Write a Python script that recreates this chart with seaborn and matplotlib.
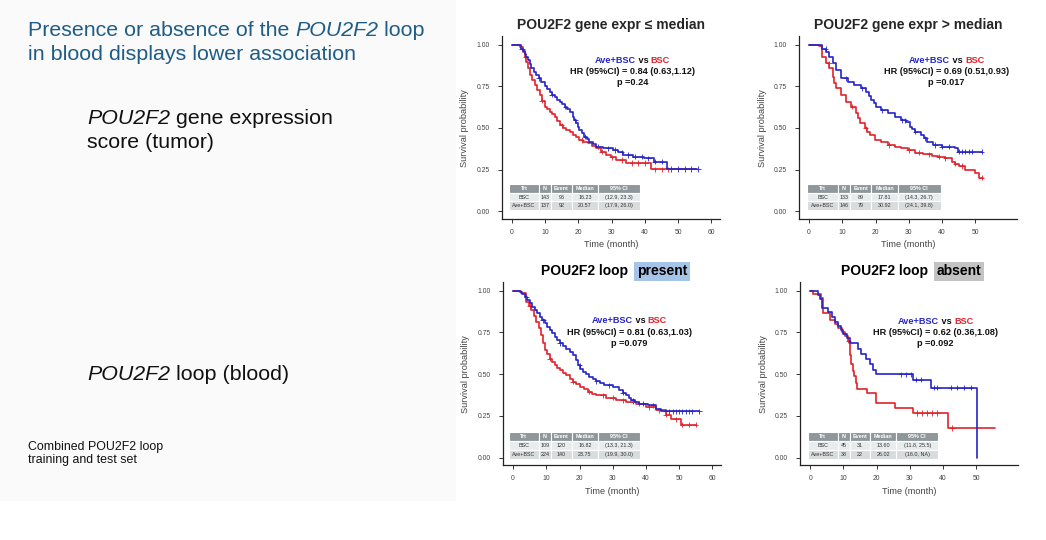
import numpy as np
import pandas as pd
import seaborn as sns
import matplotlib.pyplot as plt

sns.set_style('ticks')
plt.rcParams['font.family'] = ['Liberation Sans', 'DejaVu Sans']

BLUE = '#2424c8'
RED = '#e1222b'
TEXT_BLUE = '#1f5c87'

# ---- Kaplan-Meier curves (time in months, survival prob) ----
# top left: POU2F2 gene expr <= median
tl_ave_t = [0, 1.8, 2.8, 3.3, 3.8, 4.3, 4.8, 5.3, 5.8, 6.5, 7.3, 8.0, 8.8, 10.0, 10.6, 11.3, 12.0, 12.8, 13.5,
            14.3, 15.0, 15.8, 16.5, 17.3, 18.3, 18.8, 19.3, 19.8, 20.3, 21.0, 21.8, 22.5, 23.3, 24.3, 25.3,
            27.3, 30.3, 31.8, 33.3, 36.3, 39.8, 42.8, 46.5, 55.8]
tl_ave_s = [1.0, 0.996, 0.976, 0.961, 0.946, 0.927, 0.907, 0.882, 0.857, 0.837, 0.817, 0.797, 0.777, 0.751,
            0.734, 0.717, 0.700, 0.683, 0.670, 0.657, 0.642, 0.627, 0.612, 0.597, 0.567, 0.547, 0.527, 0.507,
            0.488, 0.468, 0.448, 0.433, 0.418, 0.403, 0.388, 0.378, 0.368, 0.353, 0.338, 0.328, 0.318, 0.298,
            0.254, 0.254]
tl_bsc_t = [0, 2.3, 3.3, 3.8, 4.3, 4.8, 5.3, 6.0, 6.8, 7.5, 8.3, 9.0, 9.8, 10.5, 11.3, 12.0, 12.8, 13.5, 14.3,
            15.3, 16.3, 17.3, 18.3, 19.3, 20.3, 21.5, 22.8, 24.0, 25.3, 26.8, 28.3, 29.8, 31.3, 34.3, 41.8, 55.3]
tl_bsc_s = [1.0, 0.987, 0.957, 0.927, 0.897, 0.857, 0.817, 0.787, 0.757, 0.727, 0.697, 0.663, 0.627, 0.612,
            0.597, 0.582, 0.567, 0.542, 0.517, 0.502, 0.488, 0.473, 0.458, 0.443, 0.428, 0.418, 0.408, 0.393,
            0.378, 0.358, 0.338, 0.323, 0.308, 0.290, 0.252, 0.252]
tl_ave_cens = [3, 8, 12, 16, 19, 22, 26, 29, 31, 33, 35, 37, 39, 41, 43, 45, 48, 50, 52, 54, 56]
tl_bsc_cens = [4, 9, 15, 21, 27, 30, 33, 36, 38, 40, 43, 45, 47]

# top right: POU2F2 gene expr > median
tr_ave_t = [0, 2.5, 4.0, 5.1, 6.1, 7.1, 8.1, 9.6, 11.6, 13.6, 15.7, 17.2, 18.0, 18.7, 19.5, 20.2, 21.7, 23.7,
            25.8, 27.8, 29.3, 30.3, 31.0, 31.8, 33.8, 34.6, 35.4, 37.4, 39.9, 43.9, 44.7, 52.2]
tr_ave_s = [1.0, 0.996, 0.976, 0.956, 0.927, 0.887, 0.847, 0.797, 0.777, 0.757, 0.737, 0.717, 0.692, 0.667,
            0.647, 0.627, 0.607, 0.587, 0.567, 0.547, 0.537, 0.507, 0.492, 0.478, 0.458, 0.438, 0.418, 0.398,
            0.388, 0.378, 0.358, 0.358]
tr_bsc_t = [0, 3.0, 4.0, 5.1, 6.1, 7.1, 7.6, 8.1, 9.6, 11.1, 12.6, 14.1, 14.6, 15.2, 16.7, 17.5, 18.2, 19.7,
            21.7, 23.7, 25.8, 27.8, 29.8, 31.8, 34.3, 36.9, 38.9, 40.9, 42.9, 44.0, 45.0, 47.0, 50.0, 51.2, 52.5]
tr_bsc_s = [1.0, 0.99, 0.927, 0.887, 0.857, 0.807, 0.772, 0.737, 0.697, 0.657, 0.627, 0.587, 0.557, 0.527,
            0.498, 0.478, 0.458, 0.428, 0.418, 0.398, 0.388, 0.378, 0.368, 0.352, 0.342, 0.334, 0.328, 0.318,
            0.298, 0.285, 0.272, 0.248, 0.228, 0.202, 0.202]
tr_ave_cens = [5, 11, 16, 22, 28, 29, 32, 35, 38, 40, 42, 45, 46, 47, 48, 49, 52]
tr_bsc_cens = [6, 13, 17, 24, 30, 33, 36, 39, 41, 44, 46, 52]

# bottom left: POU2F2 loop present
bl_ave_t = [0, 2, 2.8, 3.5, 4.2, 5, 5.8, 6.5, 7.2, 8, 8.8, 9.5, 10.2, 11, 11.8, 12.5, 13.2, 14, 15, 16, 17, 18,
            18.8, 19.5, 20.2, 21, 22, 23, 24, 25, 26.2, 27.5, 30, 32, 33, 34, 34.8, 35.5, 36.8, 38, 40.5, 43,
            44.5, 56]
bl_ave_s = [1.0, 0.994, 0.979, 0.964, 0.944, 0.924, 0.904, 0.884, 0.864, 0.844, 0.824, 0.804, 0.784, 0.764,
            0.744, 0.724, 0.704, 0.684, 0.669, 0.654, 0.634, 0.614, 0.584, 0.554, 0.534, 0.514, 0.499, 0.484,
            0.471, 0.458, 0.446, 0.434, 0.424, 0.404, 0.389, 0.374, 0.359, 0.344, 0.334, 0.324, 0.314, 0.294,
            0.278, 0.278]
bl_bsc_t = [0, 2.5, 4, 4.8, 5.5, 6.2, 7, 7.8, 8.5, 9, 9.5, 10.2, 11, 11.8, 12.5, 13.2, 14, 15, 16, 17, 18, 19,
            20, 21.2, 22.5, 23.8, 25, 28, 31, 34, 37, 40, 43, 46, 47.5, 50.5, 55.2]
bl_bsc_s = [1.0, 0.984, 0.934, 0.909, 0.884, 0.849, 0.814, 0.774, 0.734, 0.689, 0.644, 0.619, 0.594, 0.574,
            0.554, 0.539, 0.524, 0.509, 0.494, 0.474, 0.454, 0.439, 0.424, 0.409, 0.394, 0.384, 0.374, 0.358,
            0.344, 0.334, 0.324, 0.304, 0.284, 0.258, 0.23, 0.198, 0.198]
bl_ave_cens = [4, 9, 14, 20, 25, 29, 33, 36, 39, 42, 46, 47, 48, 49, 50, 51, 52, 53, 54, 56]
bl_bsc_cens = [5, 11, 18, 23, 27, 30, 33, 36, 38, 41, 44, 46, 49, 51, 53, 55]

# bottom right: POU2F2 loop absent
br_ave_t = [0, 2.3, 3.0, 3.5, 5.5, 6.5, 7.5, 8.5, 9.4, 10.0, 11.0, 12.0, 14.4, 15.4, 16.9, 17.9, 18.9, 19.9,
            30.9, 36.3, 50.2]
br_ave_s = [1.0, 0.974, 0.948, 0.898, 0.874, 0.844, 0.814, 0.79, 0.764, 0.738, 0.714, 0.684, 0.654, 0.624,
            0.594, 0.564, 0.524, 0.50, 0.468, 0.418, 0.0]
br_bsc_t = [0, 1.0, 3.2, 3.8, 6.0, 7.5, 8.5, 9.5, 10.5, 11.3, 11.9, 12.2, 12.8, 13.2, 13.7, 14.2, 17.0, 19.9,
            25.4, 30.9, 41.6, 55.5]
br_bsc_s = [1.0, 0.978, 0.955, 0.868, 0.824, 0.80, 0.776, 0.752, 0.73, 0.70, 0.614, 0.56, 0.52, 0.49, 0.45,
            0.41, 0.386, 0.33, 0.298, 0.268, 0.178, 0.178]
br_ave_cens = [27.3, 28.8, 30.3, 31.8, 33.3, 37.3, 38.3, 42.3, 44.3, 46.3, 48.3]
br_bsc_cens = [11.5, 32.3, 33.8, 35.3, 36.8, 38.3, 42.7]

# ---- panel text ----
titles = [('POU2F2 gene expr \u2264 median', None), ('POU2F2 gene expr > median', None),
          ('POU2F2 loop ', 'present'), ('POU2F2 loop ', 'absent')]
hr_text = ['HR (95%CI) = 0.84 (0.63,1.12)', 'HR (95%CI) = 0.69 (0.51,0.93)',
           'HR (95%CI) = 0.81 (0.63,1.03)', 'HR (95%CI) = 0.62 (0.36,1.08)']
p_text = ['p =0.24', 'p =0.017', 'p =0.079', 'p =0.092']
table_cols = ['Trt', 'N', 'Event', 'Median', '95% CI']
tables = [
    [['BSC', '143', '96', '16.23', '(12.9, 23.3)'], ['Ave+BSC', '137', '92', '20.57', '(17.9, 26.0)']],
    [['BSC', '133', '89', '17.81', '(14.3, 26.7)'], ['Ave+BSC', '146', '79', '30.92', '(24.1, 39.8)']],
    [['BSC', '109', '120', '16.82', '(13.3, 21.3)'], ['Ave+BSC', '224', '140', '23.75', '(19.9, 30.0)']],
    [['BSC', '45', '31', '13.60', '(11.8, 25.5)'], ['Ave+BSC', '38', '22', '26.02', '(16.0, NA)']],
]

fig = plt.figure(figsize=(10.46, 5.4), dpi=100, facecolor='white')
bg = fig.add_axes([0, 0, 1, 1])
bg.set_xlim(0, 1046)
bg.set_ylim(540, 0)
bg.axis('off')
bg.add_patch(plt.Rectangle((0, 0), 455, 500, color='#f9faf9', zorder=0))


def chain(ax, x, y, parts, size, ha='center', va='center', transform=None, **common):
    """Write several differently styled pieces of text one after another on one line.
    parts: (text, style dict, extra gap in points before the piece)"""
    full = ''.join(p[0] for p in parts)
    anchor = ax.text(x, y, full, fontsize=size, ha=ha, va=va, alpha=0,
                     transform=transform if transform is not None else ax.transData,
                     **{k: v for k, v in common.items() if k in ('fontweight', 'fontstyle')})
    prev = anchor
    for i, (s, kw, gap) in enumerate(parts):
        opts = dict(common)
        opts.update(kw)
        prev = ax.annotate(s, xy=(0, 0) if i == 0 else (1, 0), xycoords=prev,
                           xytext=(gap, 0), textcoords='offset points',
                           ha='left', va='bottom', fontsize=size, **opts)
    return anchor


# slide texts
sz = 15.4
chain(bg, 28, 30, [('Presence or absence of the ', {}, 0), ('POU2F2', {'fontstyle': 'italic'}, 0),
                   (' loop', {}, 0)], sz, ha='left', color=TEXT_BLUE)
bg.text(28, 55, 'in blood displays lower association', fontsize=sz, color=TEXT_BLUE, va='center')
chain(bg, 87, 118, [('POU2F2', {'fontstyle': 'italic'}, 0), (' gene expression', {}, 0)], sz,
      ha='left', color='#111111')
bg.text(87, 143, 'score (tumor)', fontsize=sz, color='#111111', va='center')
chain(bg, 87, 375, [('POU2F2', {'fontstyle': 'italic'}, 0), (' loop (blood)', {}, 0)], sz,
      ha='left', color='#111111')
bg.text(28, 447, 'Combined POU2F2 loop', fontsize=8.9, color='#111111', va='center')
bg.text(28, 460, 'training and test set', fontsize=8.9, color='#111111', va='center')

panels = [
    dict(rect=[0.480, 0.594, 0.208, 0.339], ave=(tl_ave_t, tl_ave_s, tl_ave_cens), bsc=(tl_bsc_t, tl_bsc_s, tl_bsc_cens),
         xt=[0, 10, 20, 30, 40, 50, 60], lab=(36.2, [0.906, 0.84, 0.775]), tab=[0.031, 0.050, 0.604, 0.141], hl=None),
    dict(rect=[0.764, 0.594, 0.208, 0.339], ave=(tr_ave_t, tr_ave_s, tr_ave_cens), bsc=(tr_bsc_t, tr_bsc_s, tr_bsc_cens),
         xt=[0, 10, 20, 30, 40, 50], lab=(41.4, [0.906, 0.84, 0.775]), tab=[0.038, 0.050, 0.612, 0.141], hl=None),
    dict(rect=[0.481, 0.138, 0.208, 0.339], ave=(bl_ave_t, bl_ave_s, bl_ave_cens), bsc=(bl_bsc_t, bl_bsc_s, bl_bsc_cens),
         xt=[0, 10, 20, 30, 40, 50, 60], lab=(35.0, [0.82, 0.748, 0.684]), tab=[0.026, 0.034, 0.603, 0.149], hl='#a6c4e8'),
    dict(rect=[0.765, 0.138, 0.208, 0.339], ave=(br_ave_t, br_ave_s, br_ave_cens), bsc=(br_bsc_t, br_bsc_s, br_bsc_cens),
         xt=[0, 10, 20, 30, 40, 50], lab=(37.8, [0.814, 0.748, 0.684]), tab=[0.035, 0.034, 0.599, 0.149], hl='#c3c3c3'),
]

for i, pn in enumerate(panels):
    ax = fig.add_axes(pn['rect'])
    ax.set_facecolor('white')
    rows = []
    cens = []
    for arm, (t, s, c) in (('BSC', pn['bsc']), ('Ave+BSC', pn['ave'])):
        rows.append(pd.DataFrame({'time': t, 'surv': s, 'arm': arm}))
        t_arr, s_arr = np.asarray(t), np.asarray(s)
        idx = np.searchsorted(t_arr, c, side='right') - 1
        cens.append(pd.DataFrame({'time': c, 'surv': s_arr[idx], 'arm': arm}))
    df = pd.concat(rows, ignore_index=True)
    cdf = pd.concat(cens, ignore_index=True)
    pal = {'BSC': RED, 'Ave+BSC': BLUE}
    sns.lineplot(data=df, x='time', y='surv', hue='arm', palette=pal, estimator=None, sort=False,
                 drawstyle='steps-post', linewidth=1.2, legend=False, ax=ax)
    sns.scatterplot(data=cdf, x='time', y='surv', hue='arm', palette=pal, marker='+', s=14,
                    linewidth=0.6, legend=False, ax=ax)

    ax.set_xlim(-3, 62.5)
    ax.set_ylim(-0.047, 1.05)
    ax.set_xticks(pn['xt'])
    ax.set_yticks([0, 0.25, 0.5, 0.75, 1.0])
    ax.set_yticklabels(['0.00', '0.25', '0.50', '0.75', '1.00'])
    ax.tick_params(axis='both', labelsize=4.9, labelcolor='#444444', length=3, width=0.7, color='#333333')
    ax.tick_params(axis='y', pad=6)
    ax.tick_params(axis='x', pad=4)
    for sp in ('top', 'right'):
        ax.spines[sp].set_visible(False)
    for sp in ('left', 'bottom'):
        ax.spines[sp].set_color('#222222')
        ax.spines[sp].set_linewidth(0.9)
    ax.set_xlabel('Time (month)', fontsize=6.6, color='#444444')
    ax.set_ylabel('Survival probability', fontsize=6.6, color='#444444')
    ax.xaxis.set_label_coords(0.5, -0.115)
    ax.yaxis.set_label_coords(-0.15, 0.5)

    # title
    t1, t2 = titles[i]
    if t2 is None:
        ax.text(0.5, 1.06, t1, transform=ax.transAxes, ha='center', va='center', fontsize=10, fontweight='bold')
    else:
        chain(ax, 0.5, 1.06, [(t1, {}, 0),
                              (t2, {'bbox': dict(facecolor=pn['hl'], edgecolor='none', pad=2)}, 3.5)],
              10, transform=ax.transAxes, fontweight='bold', color='black')

    # HR annotation
    lx, ly = pn['lab']
    chain(ax, lx, ly[0], [('Ave+BSC', {'color': BLUE}, 0), (' vs ', {'color': '#111111'}, 0),
                          ('BSC', {'color': RED}, 0)], 6.6, fontweight='bold')
    ax.text(lx, ly[1], hr_text[i], ha='center', va='center', fontsize=6.6, fontweight='bold', color='#111111')
    ax.text(lx, ly[2], p_text[i], ha='center', va='center', fontsize=6.6, fontweight='bold', color='#111111')

    # risk summary table
    tb = ax.table(cellText=tables[i], colLabels=table_cols, colWidths=[0.23, 0.09, 0.16, 0.2, 0.32],
                  cellLoc='center', bbox=pn['tab'])
    tb.auto_set_font_size(False)
    for (r, c), cell in tb.get_celld().items():
        cell.set_edgecolor('white')
        cell.set_linewidth(0.8)
        cell.get_text().set_fontsize(3.9)
        if r == 0:
            cell.set_facecolor('#8f979b')
            cell.get_text().set_color('white')
            cell.get_text().set_fontweight('bold')
        else:
            cell.set_facecolor('#e8ecec' if r == 1 else '#d8dcdd')
            cell.get_text().set_color('#333333')

fig.savefig('out.png', dpi=100, facecolor=fig.get_facecolor())
